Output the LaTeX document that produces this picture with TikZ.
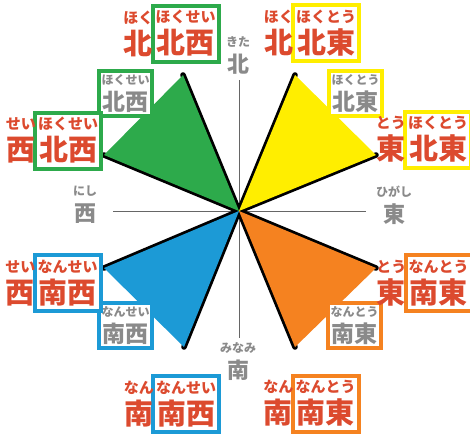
\documentclass[tikz,border=0pt]{standalone}
\usepackage{fontspec}
\usepackage{xcolor}
\usepackage{tikz}
\usetikzlibrary{positioning}
\newfontfamily\jp{Noto Sans CJK JP}
\definecolor{hoiRed}{HTML}{DC4A2E}
\definecolor{hoiGray}{HTML}{8A8A8A}
\definecolor{hoiGreen}{HTML}{2DAA4B}
\definecolor{hoiYellow}{HTML}{FFEE00}
\definecolor{hoiBlue}{HTML}{1C9AD6}
\definecolor{hoiOrange}{HTML}{F58220}
\newcommand{\bigyomi}[2]{{\fontsize{15}{15}\selectfont #1}\\#2}
\newcommand{\smallyomi}[2]{{\fontsize{12}{12}\selectfont #1}\\#2}
\tikzset{
  bigname/.style={text=hoiRed,font=\jp\bfseries\fontsize{29}{31}\selectfont,
    align=center,inner sep=0pt},
  bigframe/.style={bigname,draw=#1,line width=4pt,fill=white,
    minimum width=66pt,minimum height=56pt},
  midframe/.style={text=hoiGray,font=\jp\bfseries\fontsize{23}{26}\selectfont,
    align=center,inner sep=0pt,draw=#1,line width=4pt,fill=white,
    minimum width=53pt,minimum height=45pt},
  axislabel/.style={text=hoiGray,font=\jp\bfseries\fontsize{22}{26}\selectfont,
    align=center,inner sep=0pt},
  axis/.style={draw=black!60,line width=0.9pt},
  edge/.style={draw=black,line width=5.5pt,line cap=round}
}
\begin{document}
\begin{tikzpicture}[x=1pt,y=-1pt]
  \useasboundingbox (0,0) rectangle (470,437);
  \coordinate (c) at (239,211);
  \coordinate (axN) at (239,80);
  \coordinate (axS) at (239,338);
  \coordinate (axW) at (113,211);
  \coordinate (axE) at (366,211);
  % tips of the four wedges
  \coordinate (nw1) at (183,75);  \coordinate (nw2) at (104,155);
  \coordinate (ne1) at (295,75);  \coordinate (ne2) at (376,155);
  \coordinate (sw1) at (104,268); \coordinate (sw2) at (184,347);
  \coordinate (se1) at (376,268); \coordinate (se2) at (295,347);

  \draw[axis] (axN) -- (axS);
  \draw[axis] (axW) -- (axE);

  \foreach \t in {nw1,nw2,ne1,ne2,sw1,sw2,se1,se2}
    \draw[edge] (c) -- (\t);
  \fill[hoiGreen] (c) -- (nw1) -- (nw2) -- cycle;
  \fill[hoiYellow] (c) -- (ne1) -- (ne2) -- cycle;
  \fill[hoiBlue] (c) -- (sw1) -- (sw2) -- cycle;
  \fill[hoiOrange] (c) -- (se1) -- (se2) -- cycle;

  % cardinal points
  \node[axislabel] (north) at (238,55) {\smallyomi{きた}{北}};
  \node[axislabel] (west) at (85,205) {\smallyomi{にし}{西}};
  \node[axislabel] (east) at (394,205) {\smallyomi{ひがし}{東}};
  \node[axislabel] (south) at (238,362) {\smallyomi{みなみ}{南}};

  % intercardinal points
  \node[midframe=hoiGreen] (nw) at (125.5,93.5) {\smallyomi{ほくせい}{北西}};
  \node[midframe=hoiYellow] (ne) at (355.5,93.5) {\smallyomi{ほくとう}{北東}};
  \node[midframe=hoiBlue] (sw) at (125.5,325.5) {\smallyomi{なんせい}{南西}};
  \node[midframe=hoiOrange] (se) at (354.5,325.5) {\smallyomi{なんとう}{南東}};

  % sixteen-point names
  \node[bigframe=hoiGreen] (nnw) at (185.5,33.5) {\bigyomi{ほくせい}{北西}};
  \node[bigname,anchor=east,xshift=3pt] (nnwp) at (nnw.west) {\bigyomi{ほく}{北}};
  \node[bigframe=hoiGreen] (wnw) at (68,140.5) {\bigyomi{ほくせい}{北西}};
  \node[bigname,anchor=east,xshift=3pt] (wnwp) at (wnw.west) {\bigyomi{せい}{西}};
  \node[bigframe=hoiYellow] (nne) at (326,33) {\bigyomi{ほくとう}{北東}};
  \node[bigname,anchor=east,xshift=3pt] (nnep) at (nne.west) {\bigyomi{ほく}{北}};
  \node[bigframe=hoiYellow] (ene) at (438,139.5) {\bigyomi{ほくとう}{北東}};
  \node[bigname,anchor=east,xshift=3pt] (enep) at (ene.west) {\bigyomi{とう}{東}};
  \node[bigframe=hoiBlue] (wsw) at (67.5,283) {\bigyomi{なんせい}{南西}};
  \node[bigname,anchor=east,xshift=3pt] (wswp) at (wsw.west) {\bigyomi{せい}{西}};
  \node[bigframe=hoiBlue] (ssw) at (186,404) {\bigyomi{なんせい}{南西}};
  \node[bigname,anchor=east,xshift=3pt] (sswp) at (ssw.west) {\bigyomi{なん}{南}};
  \node[bigframe=hoiOrange] (ese) at (438.5,283) {\bigyomi{なんとう}{南東}};
  \node[bigname,anchor=east,xshift=3pt] (esep) at (ese.west) {\bigyomi{とう}{東}};
  \node[bigframe=hoiOrange] (sse) at (325.5,403.5) {\bigyomi{なんとう}{南東}};
  \node[bigname,anchor=east,xshift=3pt] (ssep) at (sse.west) {\bigyomi{なん}{南}};
\end{tikzpicture}
\end{document}
